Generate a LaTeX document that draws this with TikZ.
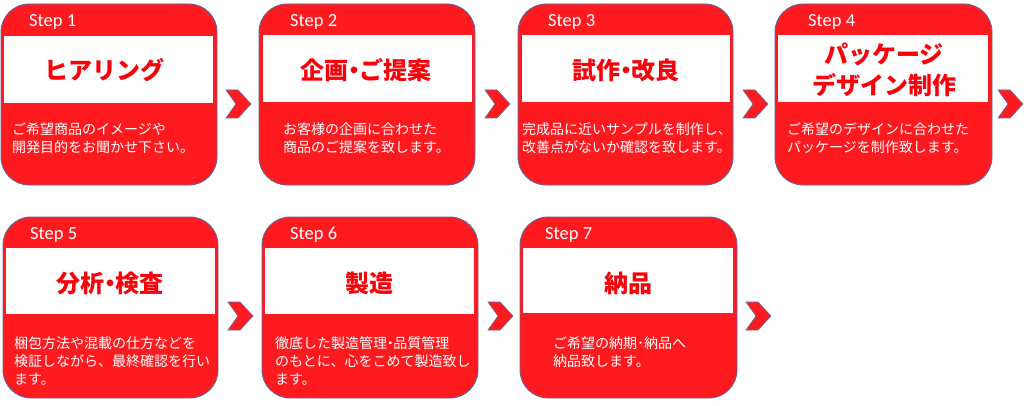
\documentclass[tikz,border=0pt]{standalone}
\usepackage{fontspec}
\setmainfont{Carlito}
\newfontfamily\jp{Noto Sans CJK JP}
\definecolor{boxred}{RGB}{255,26,32}
\definecolor{titlered}{RGB}{250,0,10}
\definecolor{edge}{RGB}{95,105,150}
\tikzset{
  stepbox/.style={draw=edge, line width=0.9pt, fill=boxred, rounded corners=28pt, inner sep=0pt},
  steplabel/.style={anchor=base west, inner sep=0pt, text=white, font=\fontsize{18.5}{20}\selectfont},
  title/.style={inner sep=0pt, text=titlered, align=center, font=\jp\bfseries\fontsize{24}{31}\selectfont},
  desc/.style={anchor=base west, inner sep=0pt, text=white, align=left, font=\jp\fontsize{14}{18}\selectfont},
  chev/.style={fill=boxred, draw=edge, line width=0.6pt, line join=miter}
}
\newcommand{\chevron}[1]{\filldraw[chev] (#1) -- ++(12,0) -- ++(13,14) -- ++(-13,14) -- ++(-12,0) -- ++(10,-14) -- cycle;}
\newcommand{\ndot}{\kern-0.28em・\kern-0.28em}
\begin{document}
\begin{tikzpicture}[x=1pt,y=-1pt]
\useasboundingbox (0,0) rectangle (1024,406);
% Row 1
\draw[stepbox] (1,4) rectangle (217,185);
\draw[stepbox] (259,4) rectangle (475,185);
\draw[stepbox] (518,4) rectangle (733,185);
\draw[stepbox] (775,4) rectangle (992,185);
\fill[white] (4,36) rectangle (213,103);
\fill[white] (263,35) rectangle (472,102);
\fill[white] (522,35) rectangle (730,102);
\fill[white] (778,35) rectangle (988,102);
% Row 2
\draw[stepbox] (3,217) rectangle (218,398);
\draw[stepbox] (262,217) rectangle (478,398);
\draw[stepbox] (520,217) rectangle (737,398);
\fill[white] (6,248) rectangle (215,314);
\fill[white] (265,248) rectangle (474,314);
\fill[white] (523,248) rectangle (733,313);
% Step labels
\node[steplabel] (s1) at (29,27) {Step 1};
\node[steplabel] (s2) at (290,27) {Step 2};
\node[steplabel] (s3) at (548,27) {Step 3};
\node[steplabel] (s4) at (808,27) {Step 4};
\node[steplabel] (s5) at (30,239) {Step 5};
\node[steplabel] (s6) at (290,239) {Step 6};
\node[steplabel] (s7) at (545,239) {Step 7};
% Titles
\node[title] (t1) at (104,70) {ヒアリング};
\node[title] (t2) at (366,70) {企画\ndot ご提案};
\node[title] (t3) at (626,70) {試作\ndot 改良};
\node[title] (t4) at (884,70) {パッケージ\\デザイン制作};
\node[title] (t5) at (110,283) {分析\ndot 検査};
\node[title] (t6) at (369,283) {製造};
\node[title] (t7) at (628,283) {納品};
% Descriptions (anchored at the baseline of their last line)
\node[desc] (d1) at (12,153) {ご希望商品のイメージや\\開発目的をお聞かせ下さい。};
\node[desc] (d2) at (283,153) {お客様の企画に合わせた\\商品のご提案を致します。};
\node[desc] (d3) at (522,153) {完成品に近いサンプルを制作し、\\改善点がないか確認を致します。};
\node[desc] (d4) at (787,153) {ご希望のデザインに合わせた\\パッケージを制作致します。};
\node[desc] (d5) at (14,384) {梱包方法や混載の仕方などを\\検証しながら、最終確認を行い\\ます。};
\node[desc] (d6) at (275,384) {徹底した製造管理\ndot 品質管理\\のもとに、心をこめて製造致し\\ます。};
\node[desc] (d7) at (553,366) {ご希望の納期･納品へ\\納品致します。};
% Chevrons
\coordinate (c1) at (226,90);
\coordinate (c2) at (485,90);
\coordinate (c3) at (743,90);
\coordinate (c4) at (998,90);
\coordinate (c5) at (228,302);
\coordinate (c6) at (488,302);
\coordinate (c7) at (746,302);
\chevron{c1}\chevron{c2}\chevron{c3}\chevron{c4}
\chevron{c5}\chevron{c6}\chevron{c7}
\end{tikzpicture}
\end{document}
